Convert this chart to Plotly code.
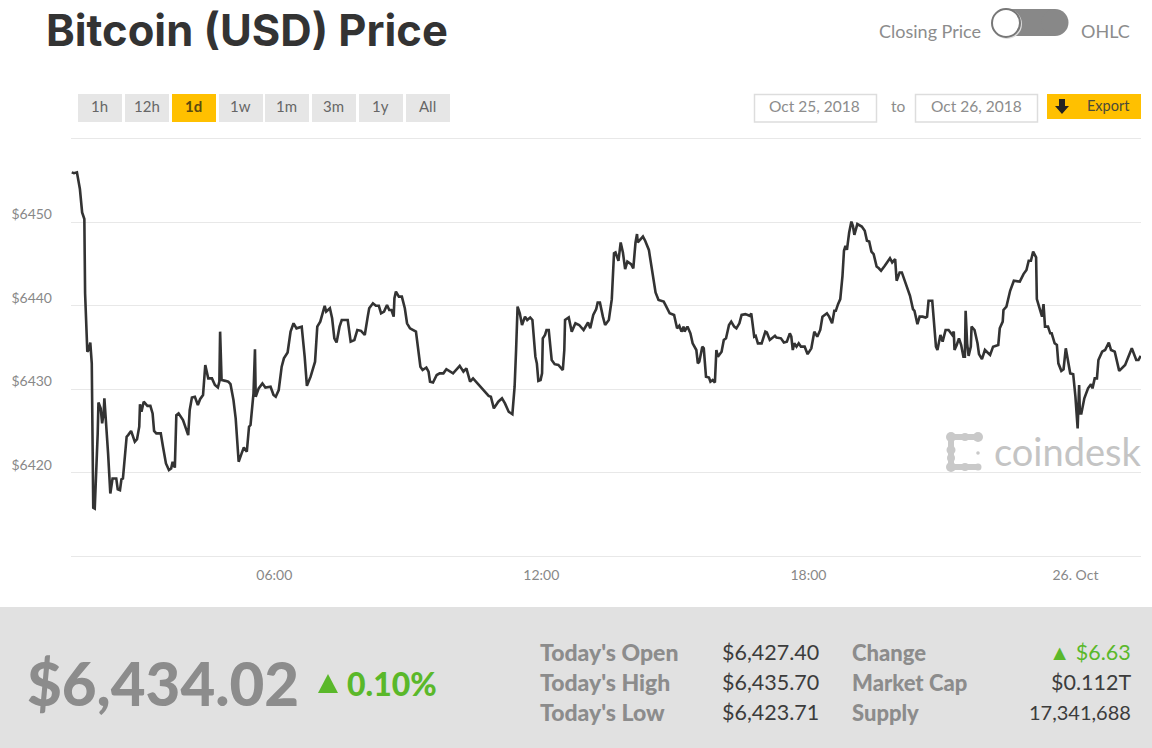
from datetime import datetime, timedelta
import plotly.graph_objects as go

START = datetime(2018, 10, 25, 1, 26)

minutes = [1,4,8,10,12,15,18,19,22,24,26,28,29,30,32,34,36,37,40,42,44,45,48,50,53,56,61,63,66,68,70,73,75,77,81,86,89,92,93,95,98,103,107,110,112,115,121,124,128,132,135,137,140,142,145,151,158,160,163,167,171,174,178,181,185,190,194,198,200,201,203,208,212,215,219,222,226,230,233,237,240,242,246,248,249,253,258,262,269,273,276,280,284,287,292,296,300,304,311,315,318,323,329,332,336,342,344,349,352,355,358,362,365,373,377,382,386,391,396,400,402,407,411,415,418,422,426,429,432,435,436,438,442,446,450,453,457,465,469,471,474,479,482,484,
488,493,497,502,506,515,524,529,533,538,542,548,558,563,566,570,576,581,585,590,595,598,600,602,605,608,612,615,619,622,626,628,630,633,635,636,639,641,644,648,652,657,663,665,666,671,675,680,685,691,697,700,704,708,710,713,717,720,725,728,729,732,734,738,741,744,747,750,755,758,761,763,764,771,774,779,784,788,792,799,802,807,813,817,820,823,826,827,831,835,838,843,845,847,851,853,856,860,862,865,868,870,872,877,880,883,887,890,894,897,901,904,909,915,917,921,923,926,931,936,938,942,949,951,957,961,965,969,
971,973,975,978,981,984,989,993,998,1002,1006,1010,1013,1019,1022,1026,1029,1031,1034,1037,1040,1042,1044,1046,1049,1052,1054,1056,1060,1066,1070,1073,1076,1079,1082,1086,1089,1092,1097,1104,1107,1111,1113,1117,1120,1126,1131,1135,1137,1141,1144,1148,1152,1154,1156,1161,1163,1166,1168,1172,1175,1179,1183,1188,1190,1191,1194,1197,1200,1203,1205,1206,1208,1210,1213,1214,1218,1222,1224,1228,1232,1239,1243,1250,1252,1256,1257,1261,1266,1271,1279,1284,1288,1291,1294,1297,1301,1302,1306,1309,1311,1313,1317,1320,1322,1326,1329,1331,1335,1338,1341,1345,1347,1351,1354,1357,1359,1360,1362,1366,1371,1375,1377,1380,1383,1385,1390,1394,1399,1402,1407,1413,1421,1430,1436,1439,1442]

price = [6456.0,6455.9,6456.0,6454.8,6454.0,6451.2,6450.4,6441.5,6434.5,6434.7,6435.6,6433.1,6425.5,6415.8,6415.7,6419.5,6424.7,6428.4,6427.7,6425.9,6427.1,6428.9,6425.5,6422.3,6417.5,6419.3,6419.3,6418.0,6417.9,6419.2,6419.3,6422.3,6424.3,6424.5,6425.0,6423.7,6424.0,6425.5,6428.2,6427.3,6428.5,6428.0,6428.0,6427.1,6425.0,6424.7,6424.7,6423.1,6421.1,6420.3,6420.5,6421.3,6420.6,6426.9,6427.1,6426.3,6424.5,6427.5,6429.0,6429.1,6428.1,6428.8,6429.3,6432.9,6431.3,6431.3,6430.5,6430.2,6430.9,6436.9,6431.1,6431.0,6430.9,6430.6,6428.7,6426.5,6421.3,6422.3,6423.0,6422.5,6425.5,6425.7,6429.5,6434.8,6429.1,6430.1,6430.7,6430.2,6430.3,6429.3,6429.1,6429.9,6432.7,6433.7,6434.4,6436.9,6437.9,6437.3,6437.5,6433.9,6430.4,6431.5,6433.3,6437.5,6438.1,6440.0,6439.3,6439.7,6438.5,6436.1,6435.6,6437.5,6438.3,6438.3,6435.7,6435.9,6437.1,6437.0,6436.5,6438.7,6439.7,6440.3,6440.0,6440.0,6439.1,6439.3,6440.1,6439.5,6439.5,6438.7,6440.9,6441.7,6441.1,6441.1,6439.7,6437.9,6437.3,6436.9,6433.9,6432.7,6432.3,6432.6,6432.1,6430.9,
6430.8,6431.7,6431.9,6431.9,6432.4,6431.9,6432.8,6432.1,6432.5,6430.9,6431.3,6430.7,6429.7,6429.2,6429.1,6427.7,6428.5,6428.9,6428.3,6427.3,6427.0,6430.3,6434.7,6439.9,6439.1,6437.7,6438.7,6438.3,6438.6,6438.3,6433.9,6433.1,6431.0,6431.1,6431.9,6436.1,6436.5,6437.1,6437.1,6433.5,6433.0,6432.9,6432.3,6434.7,6438.3,6438.6,6436.9,6437.9,6437.7,6437.1,6438.0,6437.3,6438.9,6439.6,6440.4,6440.4,6438.7,6437.7,6438.3,6439.8,6440.8,6446.3,6446.4,6445.4,6447.6,6446.4,6444.4,6445.3,6445.0,6444.5,6447.6,6448.6,6447.6,6448.3,6447.8,6446.7,6443.6,6441.6,6440.7,6440.5,6440.0,6439.1,6438.9,6437.3,6437.6,6436.9,6437.5,6436.9,6437.5,6436.7,6435.5,6434.7,6433.1,6433.3,6435.1,6434.9,6431.5,6431.4,6430.9,6431.1,6430.8,6434.7,6433.9,6434.5,6435.9,6436.1,6437.7,6438.1,6437.5,6437.3,6437.9,6438.9,6439.0,6438.8,6439.1,6436.3,6436.4,6435.5,6435.5,6436.9,6436.8,6435.9,6436.4,6436.2,6436.1,6435.6,6435.7,6436.7,
6436.3,6434.7,6435.5,6435.1,6435.5,6435.1,6435.1,6434.2,6434.9,6436.9,6436.3,6437.1,6438.7,6439.1,6438.7,6437.9,6439.4,6439.4,6440.2,6440.8,6443.6,6446.6,6447.2,6446.7,6448.8,6450.1,6449.6,6448.5,6449.8,6449.5,6449.0,6447.8,6447.7,6446.5,6446.2,6444.7,6444.5,6444.2,6444.8,6445.7,6445.2,6445.6,6443.0,6444.0,6444.0,6442.6,6441.2,6439.6,6439.4,6437.8,6438.7,6438.7,6438.6,6438.7,6440.6,6440.6,6438.7,6435.1,6434.7,6436.5,6435.7,6437.1,6437.1,6436.5,6436.9,6434.7,6435.3,6436.1,6435.3,6433.9,6433.9,6439.4,6435.5,6434.0,6435.1,6437.5,6437.1,6435.5,6434.2,6433.6,6434.7,6434.1,6435.1,6435.3,6437.3,6438.1,6439.5,6439.9,6441.8,6443.0,6442.9,6443.8,6444.3,6445.4,6445.4,6446.5,6445.8,6440.8,6439.6,6438.7,6440.2,6437.5,6437.5,6436.7,6436.7,6435.5,6435.3,6433.1,6432.2,6432.4,6434.9,6433.1,6431.9,6431.8,6429.1,6425.3,6430.5,6427.1,6427.1,6428.9,6430.1,6430.6,6430.1,6431.3,6431.3,6433.5,6434.5,6434.7,6435.6,6434.7,6434.5,6432.2,6432.9,6434.9,6433.5,6433.5,6434.0]

y_ticks = [6420, 6430, 6440, 6450]
y_labels = ["$6420", "$6430", "$6440", "$6450"]
x_ticks = [datetime(2018,10,25,6), datetime(2018,10,25,12), datetime(2018,10,25,18), datetime(2018,10,26,0)]
x_labels = ["06:00", "12:00", "18:00", "26. Oct"]

range_buttons = ["1h", "12h", "1d", "1w", "1m", "3m", "1y", "All"]
stats_left = [("Today's Open", "$6,427.40"), ("Today's High", "$6,435.70"), ("Today's Low", "$6,423.71")]
stats_right = [("Change", "\u25B2 $6.63"), ("Market Cap", "$0.112T"), ("Supply", "17,341,688")]

W, H = 1152, 748
L, R, T, B = 71, 1141, 139, 556
px = lambda x: (x - L) / (R - L)
py = lambda y: (B - y) / (B - T)
FONT = "Lato"
GREY = "#8c8c8c"
GREEN = "#5ab82a"
YELLOW = "#ffc000"

shapes = []
annots = []

def rect(x0, y0, x1, y1, fill, line=None, lw=0):
    shapes.append(dict(type="rect", xref="paper", yref="paper", x0=px(x0), x1=px(x1), y0=py(y0), y1=py(y1),
                       fillcolor=fill, line=dict(color=line or fill, width=lw), layer="below"))

def circle(cx, cy, r, fill, line=None, lw=0):
    shapes.append(dict(type="circle", xref="paper", yref="paper", x0=px(cx-r), x1=px(cx+r), y0=py(cy-r), y1=py(cy+r),
                       fillcolor=fill, line=dict(color=line or fill, width=lw), layer="below"))

def poly(points, fill):
    d = "M " + " L ".join(f"{px(a):.5f},{py(b):.5f}" for a, b in points) + " Z"
    shapes.append(dict(type="path", xref="paper", yref="paper", path=d, fillcolor=fill, line=dict(width=0), layer="below"))

def text(s, x, y, size, color, anchor="left", weight=400, family=FONT):
    annots.append(dict(text=s, xref="paper", yref="paper", x=px(x), y=py(y),
                       xanchor=anchor, yanchor="middle", showarrow=False, borderpad=0,
                       font=dict(family=family, size=size, color=color, weight=weight)))

# header
text("Bitcoin (USD) Price", 45, 30, 43.5, "#333333", weight=700, family="Inter")
text("Closing Price", 878, 31, 18, GREY)
text("OHLC", 1080, 31, 18, GREY)
rect(1005, 9, 1055, 36, "#888888")
circle(1055, 22.5, 13.5, "#888888")
circle(1007, 24, 15, "#dddddd")
circle(1006, 23, 14, "#ffffff", "#777777", 2)

# range buttons
btn_left = [78, 125, 172, 219, 265, 312, 359, 406]
for name, x0 in zip(range_buttons, btn_left):
    on = name == "1d"
    rect(x0, 94, x0 + 44, 122, YELLOW if on else "#e6e6e6")
    text(name, x0 + 21.5, 106, 15, "#5a4a10" if on else "#666666", "center", weight=700 if on else 400)

# date range + export
rect(754.5, 94.5, 876.5, 122, "#ffffff", "#dddddd", 1.5)
rect(915.5, 94.5, 1037.5, 122, "#ffffff", "#dddddd", 1.5)
text("Oct 25, 2018", 814.5, 106, 15.5, GREY, "center")
text("to", 898, 106, 15.5, GREY, "center")
text("Oct 26, 2018", 976, 106, 15.5, GREY, "center")
rect(1047, 94, 1141, 119, YELLOW)
poly([(1059,99),(1065,99),(1065,106),(1069,106),(1062,114),(1055,106),(1059,106)], "#222222")
text("Export", 1108.5, 105, 14.5, "#4a4a3a", "center")

# watermark
for cx, cy, r in [(951,437,5),(965,437,4),(978,437,5),(951,450,4.5),(951,458,4),
                  (951,467,5),(965,467,4),(978,467,3.5)]:
    circle(cx, cy, r, "#c9c9c9")
rect(951, 434, 978, 440, "#c9c9c9")
rect(948, 437, 954, 467, "#c9c9c9")
rect(951, 464, 978, 470, "#c9c9c9")
circle(978, 453, 1.8, "#c9c9c9")
text("coindesk", 993, 451, 38, "#c4c4c4")

# bottom panel
rect(0, 607, W, H, "#e1e1e1")
text("$6,434.02", 26, 683, 60, GREY, weight=900)
poly([(318,693),(328,674),(338,693)], GREEN)
text("0.10%", 346, 683, 32, GREEN, weight=900)
for i, (lab, val) in enumerate(stats_left):
    y = 652 + 30 * i
    text(lab, 539, y, 23, GREY, weight=900)
    text(val, 820, y, 21.5, "#3c3c3c", "right")
for i, (lab, val) in enumerate(stats_right):
    y = 652 + 30 * i
    text(lab, 851, y, 22, GREY, weight=900)
    text(val, 1132, y, 20 if lab == "Supply" else 21.5, GREEN if lab == "Change" else "#3c3c3c", "right")

times = [START + timedelta(minutes=m) for m in minutes]
fig = go.Figure(go.Scatter(x=times, y=price, mode="lines", line=dict(color="#333333", width=2.6), hoverinfo="skip"))
fig.update_layout(
    width=W, height=H, margin=dict(l=L, r=W-R, t=T, b=H-B),
    paper_bgcolor="#ffffff", plot_bgcolor="#ffffff", showlegend=False,
    shapes=shapes, annotations=annots,
    xaxis=dict(range=[START, START + timedelta(minutes=1442.4)], tickvals=x_ticks, ticktext=x_labels,
               showgrid=False, showline=True, mirror=True, linecolor="#e8e8e8", linewidth=1, zeroline=False, ticks="",
               tickfont=dict(family=FONT, size=14, color="#888888"), ticklabelstandoff=6),
    yaxis=dict(range=[6410, 6460], tickvals=y_ticks, ticktext=y_labels, showgrid=True, gridcolor="#e8e8e8",
               gridwidth=1, zeroline=False, showline=False, ticks="",
               tickfont=dict(family=FONT, size=14, color="#888888"), ticklabelstandoff=18, ticklabelshift=-8),
)
fig.write_html("out.html", post_script="document.body.style.margin='0';", config=dict(displayModeBar=False))
